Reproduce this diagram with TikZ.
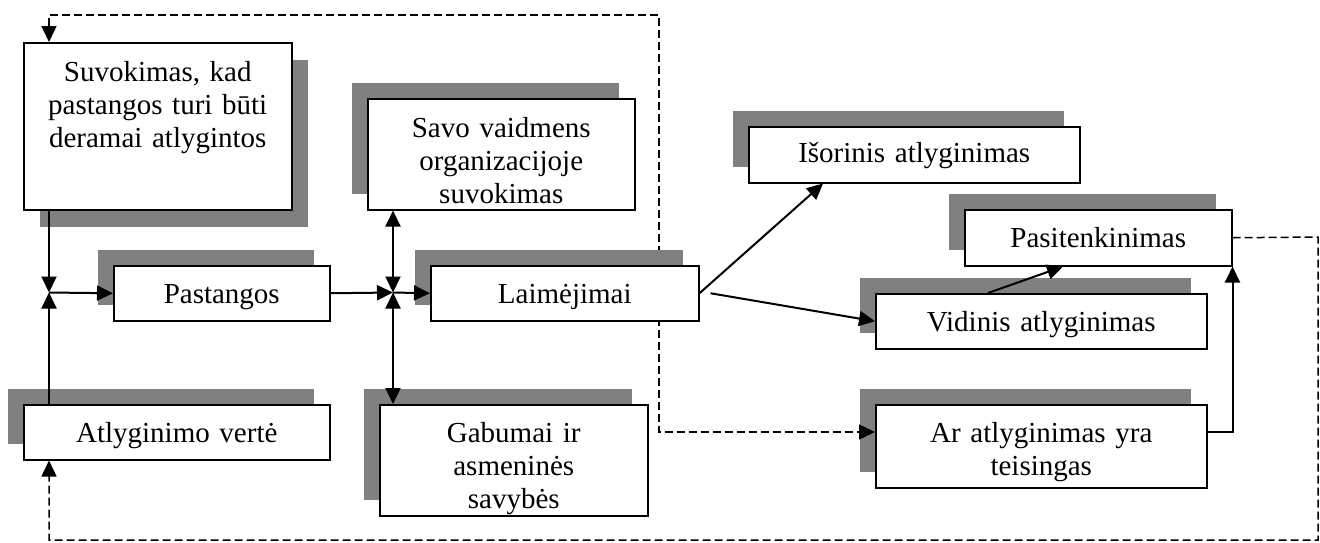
\documentclass[tikz,border=0pt]{standalone}
\usepackage{fontspec}
\setmainfont{Liberation Serif}
\usetikzlibrary{arrows.meta, positioning, shadows, calc}

\begin{document}
\begin{tikzpicture}[x=1pt, y=-1pt, > = {Triangle[length=16pt, width=15pt]},
    box/.style={draw, line width=1.5pt, fill=white, inner sep=0pt, align=center,
      anchor=north west, font=\fontsize{29pt}{33pt}\selectfont,
      text height=38pt, text depth=17pt},
    shade ul/.style={drop shadow={shadow xshift=-16pt, shadow yshift=16pt, fill=gray, opacity=1}},
    shade dr/.style={drop shadow={shadow xshift=16pt, shadow yshift=-17pt, fill=gray, opacity=1}},
    link/.style={line width=2pt},
    feedback/.style={line width=1.5pt, dash pattern=on 8pt off 4pt}]
    \useasboundingbox (0,0) rectangle (1320,542);

    \node[box, shade dr, text width=268pt, text height=39pt, text depth=128pt] (suv) at (23,42) {Suvokimas, kad\\pastangos turi būti\\deramai atlygintos};
    \node[box, shade ul, text width=267pt, text height=39pt, text depth=72pt] (savo) at (367,98) {Savo vaidmens\\organizacijoje\\suvokimas};
    \node[box, shade ul, text width=216pt] (past) at (113,265) {Pastangos};
    \node[box, shade ul, text width=306pt] (atl) at (23,404) {Atlyginimo vertė};
    \node[box, shade ul, text width=268pt, text depth=73pt] (gab) at (379,404) {Gabumai ir\\asmeninės\\savybės};
    \node[box, shade ul, text width=331pt, text height=36pt, text depth=20pt] (isor) at (748,126) {Išorinis atlyginimas};
    \node[box, shade ul, text width=267pt, text depth=18pt] (pasit) at (964,209) {Pasitenkinimas};
    \node[box, shade ul, text width=331pt] (vid) at (875,293) {Vidinis atlyginimas};
    \node[box, shade ul, text width=331pt, text depth=45pt] (ar) at (875,404) {Ar atlyginimas yra\\teisingas};

    % dashed feedback loops (before laim, so that box hides them)
    \coordinate (topL) at (49,15);
    \coordinate (topR) at (659,15);
    \coordinate (midR) at (659,432);
    \coordinate (arIn) at ($(ar.north west)+(0,28)$);
    \coordinate (farR) at (1318,237);
    \coordinate (botR) at (1318,540);
    \coordinate (botL) at (49,540);
    \draw[feedback, <->] (suv.north -| topL) -- (topL) -- (topR) -- (midR) -- (arIn);
    \draw[feedback, ->] (pasit.east) -- (farR) -- (botR) -- (botL) -- (atl.south -| botL);

    \node[box, shade ul, text width=268pt] (laim) at (430,265) {Laimėjimai};

    \coordinate (j1) at (49,292.5);
    \coordinate (j2) at (393,292.5);
    \draw[link, ->] (suv.south -| j1) -- (j1);
    \draw[link, ->] (atl.north -| j1) -- (j1);
    \draw[link, ->] (j1) -- (past.west);
    \draw[link, ->] (past.east) -- (j2);
    \draw[link, ->] (j2) -- (laim.west);
    \draw[link, <->] (savo.south -| j2) -- (j2);
    \draw[link, <->] (j2) -- (gab.north -| j2);
    \draw[link, ->] (laim.east) -- ($(isor.south west)+(75,0)$);
    \draw[link, ->] ($(laim.east)+(11,0)$) -- (vid.west);
    \draw[link, ->] ($(vid.north west)+(113,0)$) -- ($(pasit.south west)+(99,0)$);
    \coordinate (arOut) at ($(ar.north east)+(0,28)$);
    \draw[link, ->] (arOut) -| (pasit.south east);
\end{tikzpicture}
\end{document}
